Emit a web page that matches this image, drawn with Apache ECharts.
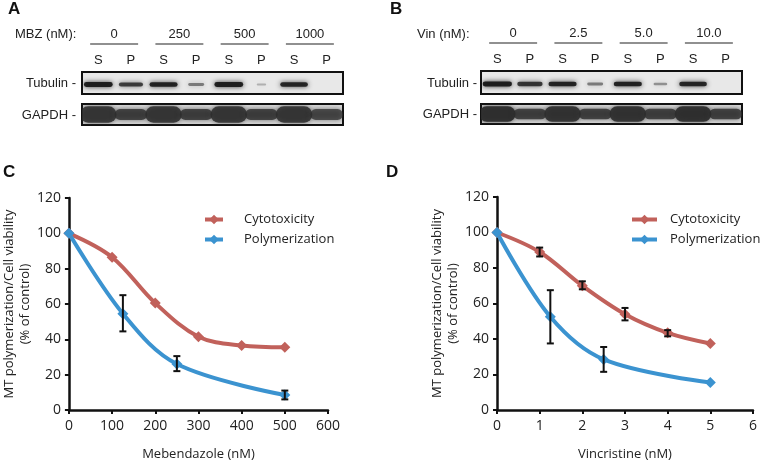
<!DOCTYPE html>
<html><head><meta charset="utf-8">
<script src="https://cdn.jsdelivr.net/npm/echarts@6/dist/echarts.min.js"></script>
<style>html,body{margin:0;padding:0;background:#fff}#c{width:760px;height:464px}</style>
</head><body><div id="c"></div>
<script>
// ---------- data ----------
const laneIds = ['S0','P0','S1','P1','S2','P2','S3','P3'];
const mbzDoses = ['0','250','500','1000'];
const vinDoses = ['0','2.5','5.0','10.0'];
const tubulinA = [0.95,0.75,0.92,0.4,0.95,0.12,0.9,0];
const gapdhA   = [0.85,0.8,0.85,0.8,0.85,0.8,0.85,0.75];
const tubulinB = [0.97,0.8,0.92,0.4,0.92,0.3,0.9,0];
const gapdhB   = [0.95,0.8,0.9,0.8,0.9,0.8,0.92,0.8];

const mbzX = [0,100,200,300,400,500];
const mbzCyto = [100,86.5,60.5,41.5,36.5,35.5];
const mbzPolyX = [0,125,250,500];
const mbzPoly = [100,54.5,26,8.5];
const mbzPolyErr = [[125,44.5,65],[250,22,30.5],[500,6,11]];

const vinX = [0,1,2,3,4,5];
const vinCyto = [100,89,70,54,43.5,37.5];
const vinCytoErr = [[1,86.5,91.5],[2,68,72.5],[3,50.5,57.5],[4,41.5,45]];
const vinPolyX = [0,1.25,2.5,5];
const vinPoly = [100,52.5,28.5,15.5];
const vinPolyErr = [[1.25,37.5,67.5],[2.5,21.5,35.5]];

// ---------- styles ----------
const RED = '#c1615b', BLUE = '#3b93d0';
const chartFont = '"Open Sans", "Noto Sans", sans-serif';
const blotFont = '"Liberation Sans", Arial, sans-serif';

const chart = echarts.init(document.getElementById('c'), null, {renderer:'canvas'});

function zip(xs, ys){ return xs.map((x,i)=>[x, ys[i]]); }
function laneData(arr){ return arr.map((v,i)=>[i, v]); }

function bandRender(kind){
  return function(params, api){
    const v = api.value(1);
    if (v <= 0) return null;
    const lane = api.value(0);
    const c = api.coord([lane, 0.5]);
    const bw = api.size([1, 0])[0];
    const cs = params.coordSys;
    let w, h, col;
    if (kind === 'tub') {
      w = bw * (0.2 + 0.72 * v);
      h = 1.5 + 3.5 * v;
      col = 'rgba(20,20,20,' + (0.15 + 0.8 * v).toFixed(2) + ')';
    } else {
      const isS = lane % 2 === 0;
      w = bw * (isS ? 1.12 : 1.0);
      h = cs.height * (isS ? 0.78 : 0.52);
      col = 'rgba(45,45,45,' + v.toFixed(2) + ')';
    }
    return {
      type: 'rect',
      shape: {x: c[0] - w/2, y: c[1] - h/2 + (kind === 'tub' ? 1.5 : 0), width: w, height: h, r: h/2},
      style: {fill: col, shadowBlur: 5, shadowColor: col}
    };
  };
}

function groupRender(doses){
  return function(params, api){
    const c0 = api.coord([api.value(0), 0]);
    const c1 = api.coord([api.value(1), 0]);
    const bw = api.size([1, 0])[0];
    const cs = params.coordSys;
    const x0 = c0[0] - bw * 0.25, x1 = c1[0] + bw * 0.22;
    const y = cs.y - 28;
    return {
      type: 'group',
      children: [
        {type:'line', shape:{x1:x0, y1:y, x2:x1, y2:y}, style:{stroke:'#222', lineWidth:1.2}},
        {type:'text', x:(x0+x1)/2, y:y-10, style:{text:doses[params.dataIndex], font:'13px '+blotFont, fill:'#222', align:'center', verticalAlign:'middle'}}
      ]
    };
  };
}

function errRender(params, api){
  const x = api.value(0);
  const lo = api.coord([x, api.value(1)]);
  const hi = api.coord([x, api.value(2)]);
  const cw = 3.5;
  const st = {stroke:'#111', lineWidth:2};
  return {type:'group', children:[
    {type:'line', shape:{x1:lo[0], y1:lo[1], x2:hi[0], y2:hi[1]}, style:st},
    {type:'line', shape:{x1:lo[0]-cw, y1:lo[1], x2:lo[0]+cw, y2:lo[1]}, style:st},
    {type:'line', shape:{x1:hi[0]-cw, y1:hi[1], x2:hi[0]+cw, y2:hi[1]}, style:st}
  ]};
}

const blotGrid = (left, top, height, bg) => ({left, top, width:261, height, show:true, backgroundColor:bg, borderColor:'#111', borderWidth:2});
const plotAxisLine = {show:true, lineStyle:{color:'#111', width:2.5}};
const plotTick = {show:true, length:4, lineStyle:{color:'#111', width:2}};
const plotLabel = {color:'#222', fontSize:14, fontFamily:chartFont};

function lineSeries(name, color, data, xi, yi){
  return {
    type:'line', name, xAxisIndex:xi, yAxisIndex:yi, data,
    smooth:0.35, symbol:'diamond', symbolSize:11,
    lineStyle:{color, width:4}, itemStyle:{color}, z:3
  };
}

const option = {
  animation:false,
  backgroundColor:'#fff',
  grid:[
    blotGrid(82, 72, 22, '#e8e8e8'),
    blotGrid(82, 104, 21, '#d9d9d9'),
    blotGrid(481, 71, 23, '#e8e8e8'),
    blotGrid(481, 104, 20, '#d9d9d9'),
    {left:68, top:198, width:260, height:212},
    {left:497, top:197, width:261, height:213}
  ],
  xAxis:[
    {gridIndex:0, type:'category', data:laneIds, position:'top', axisLine:{show:false}, axisTick:{show:false},
     axisLabel:{margin:5, fontSize:13, color:'#222', fontFamily:blotFont, formatter:v=>v.charAt(0)}},
    {gridIndex:1, type:'category', data:laneIds, show:false},
    {gridIndex:2, type:'category', data:laneIds, position:'top', axisLine:{show:false}, axisTick:{show:false},
     axisLabel:{margin:5, fontSize:13, color:'#222', fontFamily:blotFont, formatter:v=>v.charAt(0)}},
    {gridIndex:3, type:'category', data:laneIds, show:false},
    {gridIndex:4, type:'value', min:0, max:600, interval:100, axisLine:plotAxisLine, axisTick:plotTick,
     axisLabel:Object.assign({margin:9}, plotLabel), splitLine:{show:false},
     name:'Mebendazole (nM)', nameLocation:'middle', nameGap:38,
     nameTextStyle:{fontSize:13, color:'#222', fontFamily:chartFont}},
    {gridIndex:5, type:'value', min:0, max:6, interval:1, axisLine:plotAxisLine, axisTick:plotTick,
     axisLabel:Object.assign({margin:9}, plotLabel), splitLine:{show:false},
     name:'Vincristine (nM)', nameLocation:'middle', nameGap:38,
     nameTextStyle:{fontSize:13, color:'#222', fontFamily:chartFont}}
  ],
  yAxis:[
    {gridIndex:0, type:'value', min:0, max:1, show:false},
    {gridIndex:1, type:'value', min:0, max:1, show:false},
    {gridIndex:2, type:'value', min:0, max:1, show:false},
    {gridIndex:3, type:'value', min:0, max:1, show:false},
    {gridIndex:4, type:'value', min:0, max:120, interval:20, axisLine:plotAxisLine, axisTick:plotTick,
     axisLabel:Object.assign({margin:8}, plotLabel), splitLine:{show:false},
     name:'MT polymerization/Cell viability\n(% of control)', nameLocation:'middle', nameGap:31,
     nameTextStyle:{fontSize:13, lineHeight:16, color:'#222', fontFamily:chartFont, align:'center'}},
    {gridIndex:5, type:'value', min:0, max:120, interval:20, axisLine:plotAxisLine, axisTick:plotTick,
     axisLabel:Object.assign({margin:8}, plotLabel), splitLine:{show:false},
     name:'MT polymerization/Cell viability\n(% of control)', nameLocation:'middle', nameGap:25,
     nameTextStyle:{fontSize:13, lineHeight:16, color:'#222', fontFamily:chartFont, align:'center'}}
  ],
  legend:[
    {left:203, top:213, padding:0, orient:'vertical', itemGap:7, itemWidth:18, itemHeight:12,
     lineStyle:{width:4},
     data:['Cytotoxicity','Polymerization'], textStyle:{fontSize:13, color:'#222', fontFamily:chartFont, padding:[0,0,0,16]}},
    {left:630, top:213, padding:0, orient:'vertical', itemGap:7, itemWidth:25, itemHeight:12,
     lineStyle:{width:4},
     data:['Cytotoxicity','Polymerization'], textStyle:{fontSize:13, color:'#222', fontFamily:chartFont, padding:[0,0,0,8]}}
  ],
  series:[
    {type:'custom', xAxisIndex:0, yAxisIndex:0, data:laneData(tubulinA), renderItem:bandRender('tub'), clip:true, silent:true},
    {type:'custom', xAxisIndex:1, yAxisIndex:1, data:laneData(gapdhA), renderItem:bandRender('gap'), clip:true, silent:true},
    {type:'custom', xAxisIndex:2, yAxisIndex:2, data:laneData(tubulinB), renderItem:bandRender('tub'), clip:true, silent:true},
    {type:'custom', xAxisIndex:3, yAxisIndex:3, data:laneData(gapdhB), renderItem:bandRender('gap'), clip:true, silent:true},
    {type:'custom', xAxisIndex:0, yAxisIndex:0, data:mbzDoses.map((d,i)=>[2*i, 2*i+1]), renderItem:groupRender(mbzDoses), clip:false, silent:true},
    {type:'custom', xAxisIndex:2, yAxisIndex:2, data:vinDoses.map((d,i)=>[2*i, 2*i+1]), renderItem:groupRender(vinDoses), clip:false, silent:true},

    lineSeries('Cytotoxicity', RED, zip(mbzX, mbzCyto), 4, 4),
    lineSeries('Polymerization', BLUE, zip(mbzPolyX, mbzPoly), 4, 4),
    {type:'custom', xAxisIndex:4, yAxisIndex:4, data:mbzPolyErr, renderItem:errRender, z:5, silent:true},

    lineSeries('Cytotoxicity', RED, zip(vinX, vinCyto), 5, 5),
    lineSeries('Polymerization', BLUE, zip(vinPolyX, vinPoly), 5, 5),
    {type:'custom', xAxisIndex:5, yAxisIndex:5, data:vinCytoErr, renderItem:errRender, z:5, silent:true},
    {type:'custom', xAxisIndex:5, yAxisIndex:5, data:vinPolyErr, renderItem:errRender, z:5, silent:true}
  ],
  graphic:[
    {type:'text', x:8, y:1, style:{text:'A', font:'bold 17px '+blotFont, fill:'#111'}},
    {type:'text', x:390, y:1, style:{text:'B', font:'bold 17px '+blotFont, fill:'#111'}},
    {type:'text', x:3, y:164, style:{text:'C', font:'bold 17px '+blotFont, fill:'#111'}},
    {type:'text', x:386, y:164, style:{text:'D', font:'bold 17px '+blotFont, fill:'#111'}},
    {type:'text', x:15, y:34, style:{text:'MBZ (nM):', font:'13px '+blotFont, fill:'#222', verticalAlign:'middle'}},
    {type:'text', x:76, y:83, style:{text:'Tubulin -', font:'13px '+blotFont, fill:'#222', align:'right', verticalAlign:'middle'}},
    {type:'text', x:76, y:115, style:{text:'GAPDH -', font:'13px '+blotFont, fill:'#222', align:'right', verticalAlign:'middle'}},
    {type:'text', x:417, y:34, style:{text:'Vin (nM):', font:'13px '+blotFont, fill:'#222', verticalAlign:'middle'}},
    {type:'text', x:477, y:83, style:{text:'Tubulin -', font:'13px '+blotFont, fill:'#222', align:'right', verticalAlign:'middle'}},
    {type:'text', x:477, y:114, style:{text:'GAPDH -', font:'13px '+blotFont, fill:'#222', align:'right', verticalAlign:'middle'}}
  ]
};
chart.setOption(option);
</script>
</body></html>
